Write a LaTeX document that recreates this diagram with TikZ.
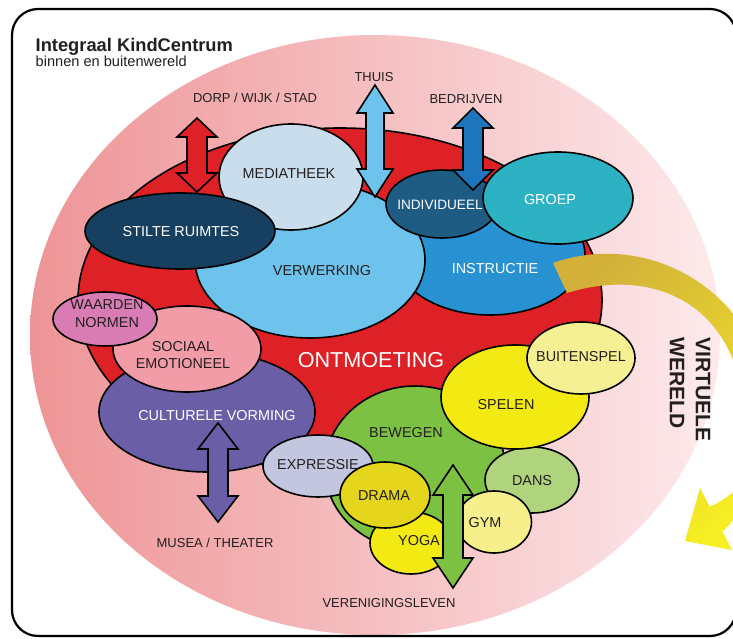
\documentclass[tikz,border=0pt]{standalone}
\usepackage{fontspec}
\setmainfont{Liberation Sans}
\usetikzlibrary{shapes.geometric}
\definecolor{pinkL}{HTML}{EE9496}
\definecolor{pinkR}{HTML}{FDEAEC}
\definecolor{redB}{HTML}{DD2127}
\definecolor{ink}{HTML}{231F20}
\definecolor{cMedi}{HTML}{CADDEC}
\definecolor{cStil}{HTML}{173F5F}
\definecolor{cVerw}{HTML}{6DC3EC}
\definecolor{cIndi}{HTML}{1F5C84}
\definecolor{cGroe}{HTML}{2CB2C3}
\definecolor{cInst}{HTML}{2891D2}
\definecolor{cWaar}{HTML}{D97CB4}
\definecolor{cSoci}{HTML}{F29CA7}
\definecolor{cCult}{HTML}{6A5EA7}
\definecolor{cExpr}{HTML}{C3C6DF}
\definecolor{cBewe}{HTML}{7DC143}
\definecolor{cSpel}{HTML}{F3EA14}
\definecolor{cBuit}{HTML}{F6F094}
\definecolor{cDans}{HTML}{AFD47D}
\definecolor{cGym}{HTML}{F6EF8C}
\definecolor{cDram}{HTML}{E5D51D}
\definecolor{cBedr}{HTML}{1D76BC}
\definecolor{yelA}{HTML}{D2B03A}
\definecolor{yelB}{HTML}{F7EF24}
% #1 name, #2 colour, #3 cx, #4 ytop, #5 ybot, #6 head half, #7 shaft half, #8 head length
\newcommand\blockarr[8]{%
  \coordinate (#1T) at (#3,#4);
  \coordinate (#1B) at (#3,#5);
  \draw[arrline, fill=#2] (#1T) -- (#3+#6,#4+#8) -- (#3+#7,#4+#8) -- (#3+#7,#5-#8)
    -- (#3+#6,#5-#8) -- (#1B) -- (#3-#6,#5-#8) -- (#3-#7,#5-#8) -- (#3-#7,#4+#8)
    -- (#3-#6,#4+#8) -- cycle;}
\begin{document}
\begin{tikzpicture}[x=1pt,y=-1pt,
  ell/.style={ellipse, draw=black, line width=1.6pt, inner sep=0pt, outer sep=0pt},
  arrline/.style={draw=black, line width=1.6pt, line join=miter},
  txt/.style={font=\fontsize{14.4}{17}\selectfont, text=ink, align=center, inner sep=0pt},
  wtxt/.style={txt, text=white},
  outer/.style={font=\fontsize{13}{15}\selectfont, text=ink, inner sep=0pt}]
\useasboundingbox (0,0) rectangle (733,639);
\clip (0,0) rectangle (733,639);
\fill[white] (0,0) rectangle (733,639);

% world
\node[ellipse, inner sep=0pt, minimum width=690pt, minimum height=600pt,
      left color=pinkL, right color=pinkR] (world) at (375,335) {};

% red blob
\node[ell, fill=redB, minimum width=524pt, minimum height=344pt] (red) at (340,300) {};

% red arrow
\blockarr{dorp}{redB}{197}{118}{192}{20}{10}{19}

% upper cluster
\node[ell, fill=cInst, minimum width=190pt, minimum height=120pt] (inst) at (490,255) {};
\node[ell, fill=cVerw, minimum width=230pt, minimum height=156pt] (verw) at (310,260) {};
\node[ell, fill=cMedi, minimum width=144pt, minimum height=106pt] (medi) at (291,177) {};
\node[ell, fill=cStil, minimum width=190pt, minimum height=76pt] (stil) at (180,231) {};
\blockarr{thuis}{cVerw}{375}{85}{197}{18}{9}{28}
\node[ell, fill=cIndi, minimum width=112pt, minimum height=68pt] (indi) at (442,204) {};
\node[ell, fill=cGroe, minimum width=150pt, minimum height=92pt] (groe) at (558,198) {};
\blockarr{bedr}{cBedr}{473}{108}{190}{20}{10}{20}

% left cluster
\node[ell, fill=cCult, minimum width=216pt, minimum height=120pt] (cult) at (207,412) {};
\node[ell, fill=cSoci, minimum width=148pt, minimum height=86pt] (soci) at (187,349) {};
\node[ell, fill=cWaar, minimum width=104pt, minimum height=54pt] (waar) at (105,319) {};
\blockarr{musea}{cCult}{218}{423}{522}{20}{10}{26}

% lower cluster
\node[ell, fill=cBewe, minimum width=180pt, minimum height=164pt] (bewe) at (415,468) {};
\node[ell, fill=cExpr, minimum width=110pt, minimum height=62pt] (expr) at (318,466) {};
\node[ell, fill=cDans, minimum width=94pt, minimum height=66pt] (dans) at (532,480) {};
\node[ell, fill=cSpel, minimum width=148pt, minimum height=104pt] (spel) at (515,397) {};
\node[ell, fill=cBuit, minimum width=108pt, minimum height=72pt] (buit) at (581,358) {};
\node[ell, fill=cGym, minimum width=75pt, minimum height=62pt] (gym) at (494,522) {};
\node[ell, fill=cSpel, minimum width=82pt, minimum height=62pt] (yoga) at (411,543) {};
\node[ell, fill=cDram, minimum width=90pt, minimum height=66pt] (dram) at (385,495) {};
\blockarr{vere}{cBewe}{453}{465}{588}{20}{10}{30}

% yellow curved arrow
\shade[top color=yelA, bottom color=yelB, middle color=yelA!55!yelB, shading angle=45]
  (553,263) .. controls (640,232) and (745,280) .. (770,390)
  .. controls (778,440) and (750,490) .. (709.6,506.6)
  -- (700,488) -- (685,541) -- (732,550) -- (722.4,531.4)
  .. controls (760,500) and (752,440) .. (742,390)
  .. controls (722,292) and (640,270) .. (567,293) -- cycle;

% labels in ellipses
\node[txt] (mediL) at (289,174) {MEDIATHEEK};
\node[wtxt] (stilL) at (181,232) {STILTE RUIMTES};
\node[txt] (verwL) at (322,271) {VERWERKING};
\node[wtxt, font=\fontsize{13.6}{16}\selectfont] (indiL) at (440,205) {INDIVIDUEEL};
\node[wtxt] (groeL) at (550,200) {GROEP};
\node[wtxt] (instL) at (495,269) {INSTRUCTIE};
\node[txt, font=\fontsize{14.4}{18}\selectfont] (waarL) at (107,314) {WAARDEN\\NORMEN};
\node[txt, font=\fontsize{14.4}{16.5}\selectfont] (sociL) at (183,355) {SOCIAAL\\EMOTIONEEL};
\node[wtxt] (cultL) at (217,416) {CULTURELE VORMING};
\node[txt] (exprL) at (318,465) {EXPRESSIE};
\node[txt] (buitL) at (581,357) {BUITENSPEL};
\node[txt] (spelL) at (506,405) {SPELEN};
\node[txt] (beweL) at (406,433) {BEWEGEN};
\node[txt] (dansL) at (532,481) {DANS};
\node[txt] (dramL) at (384,496) {DRAMA};
\node[txt] (gymL) at (485,523) {GYM};
\node[txt] (yogaL) at (419,541) {YOGA};
\node[txt, text=white, font=\fontsize{21.6}{24}\selectfont] (ontm) at (371,360) {ONTMOETING};

% outer labels
\node[outer] (dorpL) at (255,98) {DORP / WIJK / STAD};
\node[outer] (thuisL) at (374,77) {THUIS};
\node[outer] (bedrL) at (466,99) {BEDRIJVEN};
\node[outer] (museaL) at (215,543) {MUSEA / THEATER};
\node[outer] (vereL) at (389,603) {VERENIGINGSLEVEN};
\node[font=\bfseries\fontsize{21}{26}\selectfont, text=ink, rotate=-90, anchor=west,
      align=left, inner sep=0pt] (virt) at (690,337) {VIRTUELE\\WERELD};

% title
\node[anchor=base west, inner sep=0pt, text=ink, font=\bfseries\fontsize{18.3}{20}\selectfont]
  (title) at (35.5,52) {Integraal KindCentrum};
\node[anchor=base west, inner sep=0pt, text=ink, font=\fontsize{14.6}{17}\selectfont]
  (sub) at (35.5,67) {binnen en buitenwereld};

% frame
\draw[line width=2.2pt, rounded corners=26pt] (12,9) rectangle (736,636);
\end{tikzpicture}
\end{document}
